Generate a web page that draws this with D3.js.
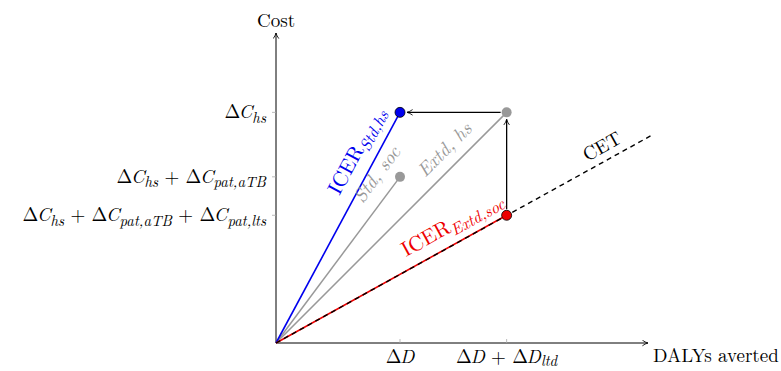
<!DOCTYPE html>
<html>
<head>
<meta charset="utf-8">
<script src="https://cdn.jsdelivr.net/npm/d3@7"></script>
<style>
  body { margin: 0; background: #fff; }
</style>
</head>
<body>
<div id="chart"></div>
<script>
// data (abstract units)
var xTickVals = [1.0, 1.86];
var yTickVals = [1.86, 1.34, 1.03];
var stdHs = [1.0, 1.86];
var stdSoc = [1.0, 1.34];
var extdHs = [1.86, 1.86];
var extdSoc = [1.86, 1.03];
var cetEnd = [3.02, 1.67];

// label pieces: [text, style] style: r=roman, i=italic, s=subscript italic
var xTickLabels = [
  [["Δ", "r"], ["D", "i"]],
  [["Δ", "r"], ["D", "i"], [" + Δ", "r"], ["D", "i"], ["ltd", "s"]]
];
var yTickLabels = [
  [["Δ", "r"], ["C", "i"], ["hs", "s"]],
  [["Δ", "r"], ["C", "i"], ["hs", "s"], [" + Δ", "r"], ["C", "i"], ["pat,aTB", "s"]],
  [["Δ", "r"], ["C", "i"], ["hs", "s"], [" + Δ", "r"], ["C", "i"], ["pat,aTB", "s"], [" + Δ", "r"], ["C", "i"], ["pat,lts", "s"]]
];

var FONT = "'Latin Modern Roman', 'Liberation Serif', serif";
var width = 781, height = 371;
var svg = d3.select("#chart").append("svg")
  .attr("width", width).attr("height", height);

var x = d3.scaleLinear().domain([0, 3]).range([276, 648]);
var y = d3.scaleLinear().domain([0, 2.5]).range([343, 33]);

var defs = svg.append("defs");
defs.append("marker").attr("id", "arr")
  .attr("viewBox", "0 0 10 10").attr("refX", 9).attr("refY", 5)
  .attr("markerWidth", 7).attr("markerHeight", 7).attr("orient", "auto")
  .attr("markerUnits", "userSpaceOnUse")
  .append("path").attr("d", "M1,1 Q5,4 9,5 Q5,6 1,9")
  .attr("fill", "none").attr("stroke", "#000").attr("stroke-width", 1.2);

function addText(sel) {
  return sel.append("text").style("font-family", FONT);
}

// write label with sub/italic pieces
function mathText(sel, parts, size, subDy) {
  subDy = subDy || 0.24;
  parts.forEach(function(p, i) {
    var prev = i > 0 ? parts[i - 1][1] : "r";
    var ts = sel.append("tspan").text(p[0]);
    if (p[1] == "i") {
      ts.attr("font-style", "italic");
      if (i > 0 && parts[i - 1][0].slice(-1) == "Δ") ts.attr("dx", -1.5);
    }
    if (p[1] == "s") {
      ts.attr("font-style", "italic").attr("font-size", size * 0.78).attr("dy", size * subDy);
    } else if (prev == "s") {
      ts.attr("dy", -size * subDy);
    }
  });
}

// axes
svg.append("line").attr("x1", x(0)).attr("y1", y(0)).attr("x2", x(3)).attr("y2", y(0))
  .attr("stroke", "#000").attr("stroke-width", 1).attr("marker-end", "url(#arr)");
svg.append("line").attr("x1", x(0)).attr("y1", y(0)).attr("x2", x(0)).attr("y2", y(2.5))
  .attr("stroke", "#000").attr("stroke-width", 1).attr("marker-end", "url(#arr)");

// ticks
svg.selectAll(".xt").data(xTickVals).enter().append("line")
  .attr("x1", function(d) { return x(d); }).attr("x2", function(d) { return x(d); })
  .attr("y1", y(0) - 4).attr("y2", y(0))
  .attr("stroke", "#aaa").attr("stroke-width", 0.8);
svg.selectAll(".yt").data(yTickVals).enter().append("line")
  .attr("x1", x(0) - 4).attr("x2", x(0))
  .attr("y1", function(d) { return y(d); }).attr("y2", function(d) { return y(d); })
  .attr("stroke", "#aaa").attr("stroke-width", 0.8);

xTickVals.forEach(function(v, i) {
  var t = addText(svg).attr("x", x(v)).attr("y", y(0) + 20)
    .attr("text-anchor", "middle").attr("font-size", 19);
  mathText(t, xTickLabels[i], 19, 0.18);
});
yTickVals.forEach(function(v, i) {
  var t = addText(svg).attr("x", x(0) - 10).attr("y", y(v) + 6)
    .attr("text-anchor", "end").attr("font-size", 19);
  mathText(t, yTickLabels[i], 19);
});

addText(svg).attr("x", x(0)).attr("y", 27).attr("text-anchor", "middle")
  .attr("font-size", 19).text("Cost");
addText(svg).attr("x", 653).attr("y", 362)
  .attr("font-size", 19).text("DALYs averted");

// lines from origin
function seg(p, color, w) {
  return svg.append("line").attr("x1", x(0)).attr("y1", y(0))
    .attr("x2", x(p[0])).attr("y2", y(p[1]))
    .attr("stroke", color).attr("stroke-width", w);
}
seg(stdSoc, "#999", 1.5);
seg(extdHs, "#999", 1.5);
seg(stdHs, "#0000ee", 1.6);
seg(extdSoc, "#ee0000", 1.6);
seg(cetEnd, "#000", 1.4).attr("stroke-dasharray", "5,4");

// arrows between points
svg.append("line").attr("x1", x(extdHs[0]) - 6).attr("y1", y(extdHs[1]))
  .attr("x2", x(stdHs[0]) + 7).attr("y2", y(stdHs[1]))
  .attr("stroke", "#000").attr("stroke-width", 1.3).attr("marker-end", "url(#arr)");
svg.append("line").attr("x1", x(extdSoc[0])).attr("y1", y(extdSoc[1]) - 6)
  .attr("x2", x(extdHs[0])).attr("y2", y(extdHs[1]) + 7)
  .attr("stroke", "#000").attr("stroke-width", 1.3).attr("marker-end", "url(#arr)");

// points
var pts = [
  { p: stdHs, fill: "#0000ee", stroke: "#000" },
  { p: stdSoc, fill: "#999", stroke: "none" },
  { p: extdHs, fill: "#999", stroke: "none" },
  { p: extdSoc, fill: "#ee0000", stroke: "#000" }
];
svg.selectAll(".pt").data(pts).enter().append("circle")
  .attr("cx", function(d) { return x(d.p[0]); })
  .attr("cy", function(d) { return y(d.p[1]); })
  .attr("r", 5)
  .attr("fill", function(d) { return d.fill; })
  .attr("stroke", function(d) { return d.stroke; })
  .attr("stroke-width", 0.8);

// rotated labels
function rotLabel(cx, cy, ang, color, parts, size) {
  var t = addText(svg)
    .attr("transform", "translate(" + cx + "," + cy + ") rotate(" + ang + ")")
    .attr("text-anchor", "middle").attr("fill", color).attr("font-size", size);
  mathText(t, parts, size);
}
function angOf(p) {
  return -Math.atan2(y(0) - y(p[1]), x(p[0]) - x(0)) * 180 / Math.PI;
}
rotLabel(362, 154, angOf(stdHs), "#0000ee", [["ICER", "r"], ["Std,hs", "s"]], 21);
rotLabel(382, 178, angOf(stdSoc), "#999", [["Std, soc", "i"]], 19);
rotLabel(449, 154, angOf(extdHs), "#999", [["Extd, hs", "i"]], 19);
rotLabel(455, 230, angOf(extdSoc), "#ee0000", [["ICER", "r"], ["Extd,soc", "s"]], 21);
rotLabel(605, 152, angOf(cetEnd), "#000", [["CET", "r"]], 19);
</script>
</body>
</html>
